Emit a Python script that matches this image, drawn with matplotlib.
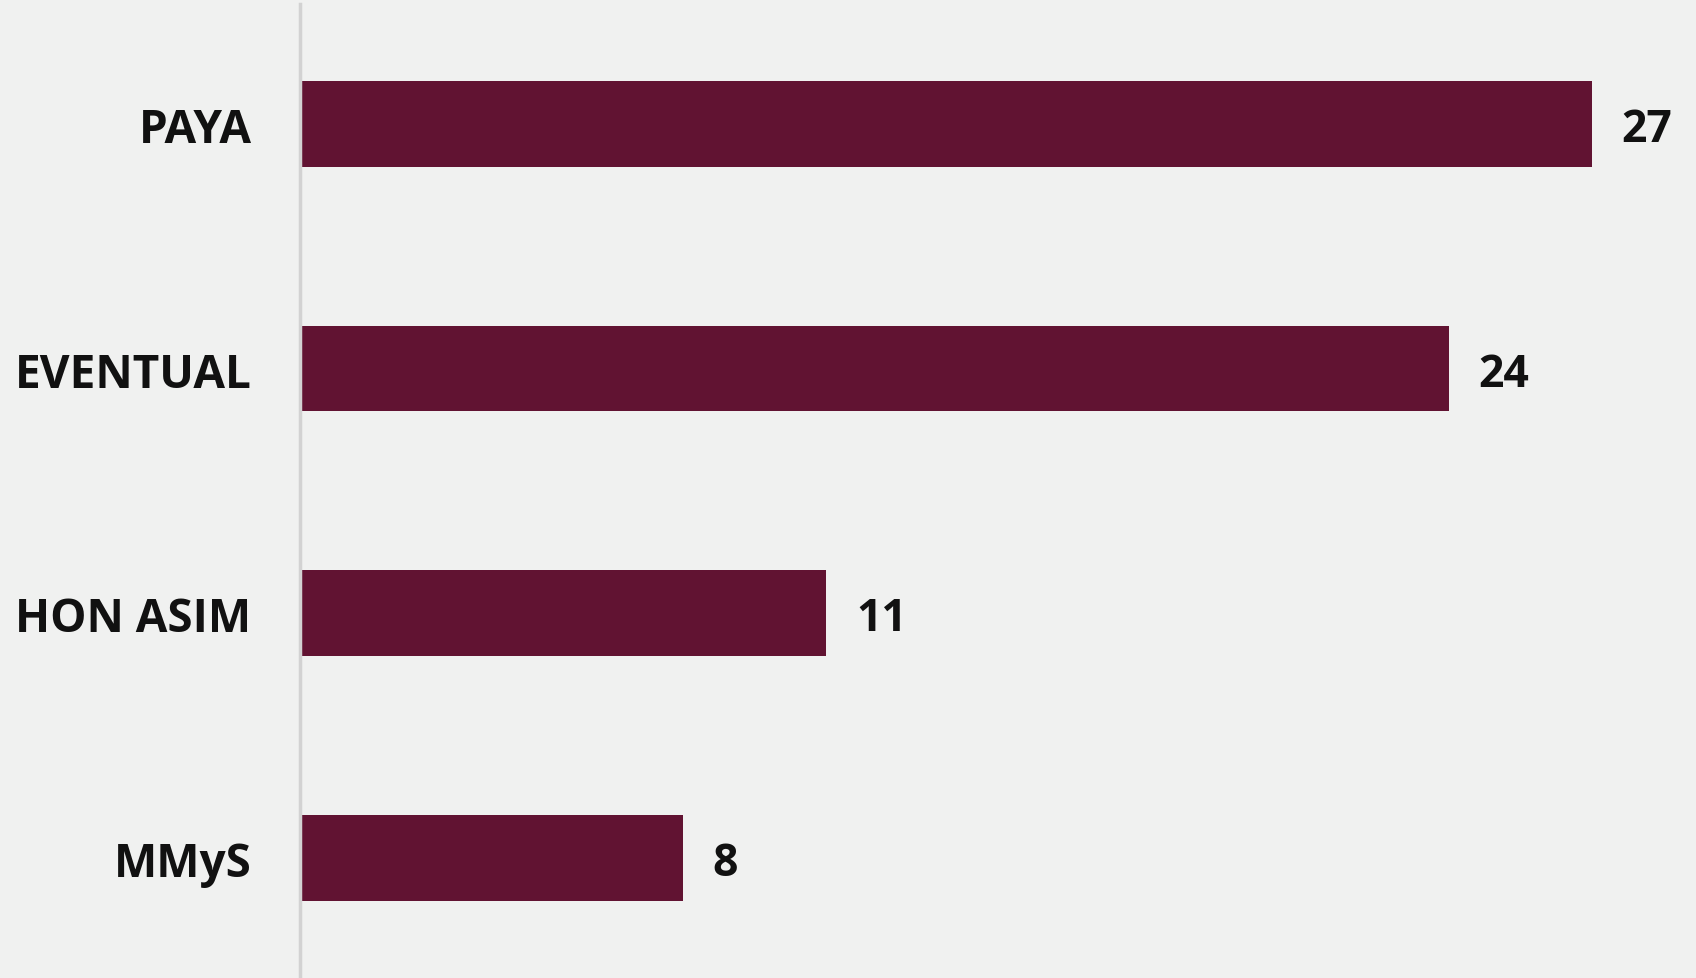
import matplotlib
matplotlib.use("Agg")
import matplotlib.pyplot as plt

categorias = ['PAYA', 'EVENTUAL', 'HON ASIM', 'MMyS']
valores = [27, 24, 11, 8]

color_barra = '#611332'
fondo = '#f0f1f0'

plt.rcParams['font.family'] = ['Open Sans', 'DejaVu Sans']

fig = plt.figure(figsize=(16.96, 9.79), dpi=100)
fig.patch.set_facecolor(fondo)
ax = fig.add_axes([300 / 1696, 0.0, 1 - 300 / 1696, 1.0])
ax.set_facecolor(fondo)

pos = list(range(len(categorias)))
ax.barh(pos, valores, height=0.35, color=color_barra)

for p, v in zip(pos, valores):
    ax.text(v + 0.62, p, str(v), va='center_baseline', ha='left', fontsize=32,
            fontweight='bold', color='#111111')

ax.set_xlim(0, 29.17)
ax.set_ylim(3.49, -0.51)
ax.set_yticks(pos)
ax.set_yticklabels(categorias, fontsize=33, fontweight='bold', color='#111111')
ax.tick_params(axis='y', length=0, pad=35)
ax.set_xticks([])
for s in ['top', 'right', 'bottom']:
    ax.spines[s].set_visible(False)
ax.spines['left'].set_color('#d2d2d2')
ax.spines['left'].set_linewidth(2.5)
ax.spines['left'].set_bounds(3.49, -0.49)

fig.savefig('out.png', dpi=100, facecolor=fondo)
